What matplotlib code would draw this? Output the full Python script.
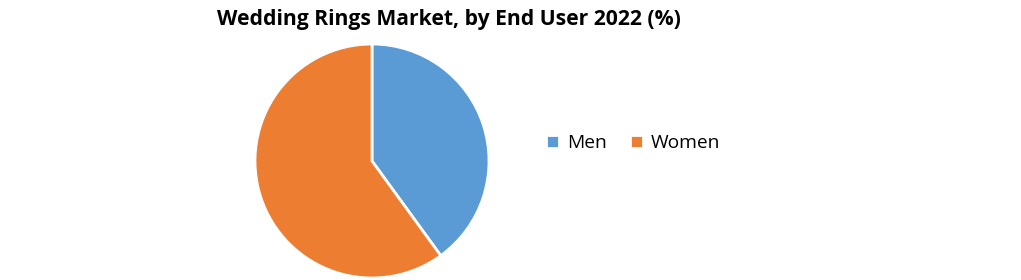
import matplotlib.pyplot as plt

labels = ['Men', 'Women']
shares = [40, 60]
colors = ['#5B9BD5', '#ED7D31']

fig = plt.figure(figsize=(10.21, 2.80), dpi=100)

# pie axes: centre ~ (372,161) px, radius ~117 px
ax = fig.add_axes([(372 - 117) / 1021, (280 - 161 - 117) / 280, 234 / 1021, 234 / 280])
wedges, _ = ax.pie(shares, colors=colors, startangle=90, counterclock=False,
                   wedgeprops=dict(edgecolor='white', linewidth=2))
ax.set_xlim(-1, 1)
ax.set_ylim(-1, 1)
ax.set_aspect('equal')

fig.text(449 / 1021, 1 - 20 / 280, 'Wedding Rings Market, by End User 2022 (%)',
         ha='center', va='center', fontweight='bold',
         family=['Open Sans', 'DejaVu Sans'], fontsize=15.2)

fig.legend(wedges, labels, loc='center left', bbox_to_anchor=(529 / 1021, 1 - 143 / 280),
           ncol=2, frameon=False, handlelength=0.65, handleheight=0.65,
           handletextpad=0.45, columnspacing=1.2,
           prop={'family': ['Open Sans', 'DejaVu Sans'], 'size': 13.8})

fig.savefig('out.png', dpi=100)
